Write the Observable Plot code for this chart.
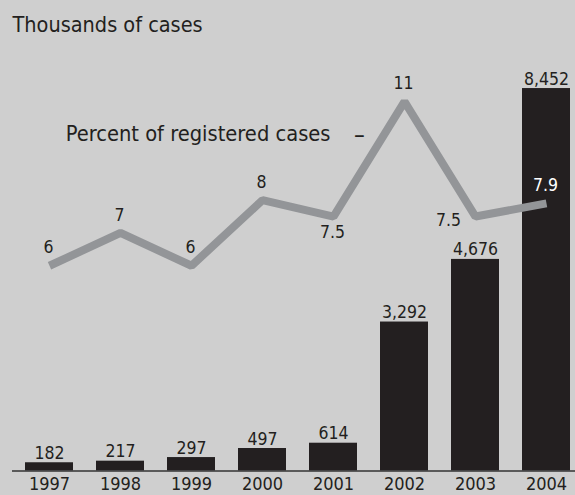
<!DOCTYPE html>
<html>
<head>
<meta charset="utf-8">
<script src="https://cdn.jsdelivr.net/npm/d3@7"></script>
<script src="https://cdn.jsdelivr.net/npm/@observablehq/plot@0.6"></script>
<style>
  html, body { margin: 0; padding: 0; background: #cfcfcf; }
  #chart svg { display: block; }
</style>
</head>
<body>
<div id="chart"></div>
<script>
// ---- data ----
const years = ["1997", "1998", "1999", "2000", "2001", "2002", "2003", "2004"];
const cases = [182, 217, 297, 497, 614, 3292, 4676, 8452];           // thousands of cases
const caseLabels = ["182", "217", "297", "497", "614", "3,292", "4,676", "8,452"];
const percents = [6, 7, 6, 8, 7.5, 11, 7.5, 7.9];                   // percent of registered cases
const percentLabels = ["6", "7", "6", "8", "7.5", "11", "7.5", "7.9"];
const titleText = "Thousands of cases";
const lineLabel = "Percent of registered cases";

const data = years.map((year, i) => ({
  year, cases: cases[i], caseLabel: caseLabels[i], pct: percents[i], pctLabel: percentLabels[i]
}));

// the percent series shares the vertical scale through a linear mapping
const pctToCases = p => 186 + 725 * p;

const FONT = "'Liberation Sans Narrow', 'DejaVu Sans Condensed', 'Arial Narrow', sans-serif";
const INK = "#231f20";
const belowSet = new Set(["2001"]);
const leftSet = new Set(["2003"]);
const whiteSet = new Set(["2004"]);

const chart = Plot.plot({
  width: 575,
  height: 495,
  marginTop: 18,
  marginBottom: 24.5,
  marginLeft: 23,
  marginRight: 4,
  style: { background: "#cfcfcf", fontFamily: FONT, color: INK, overflow: "visible" },
  x: { domain: years, paddingInner: 0.328, paddingOuter: 0, label: null },
  y: { domain: [0, 10000], axis: null },
  marks: [
    Plot.barY(data, { x: "year", y: "cases", fill: INK }),
    Plot.ruleY([0], { stroke: "#333333", strokeWidth: 1.5, insetLeft: -11, insetRight: -4 }),
    Plot.axisX({ tickSize: 0, tickPadding: 6.5, fontSize: 18, fill: INK, label: null }),
    Plot.text(data, {
      x: "year", y: "cases", text: "caseLabel", dy: -4, lineAnchor: "bottom",
      fontSize: 17.5, fill: INK
    }),
    Plot.line(data, {
      x: "year", y: d => pctToCases(d.pct), stroke: "#939598", strokeWidth: 8,
      strokeLinejoin: "miter", strokeLinecap: "butt"
    }),
    // percent labels above points
    Plot.text(data.filter(d => !belowSet.has(d.year) && !leftSet.has(d.year)), {
      x: "year", y: d => pctToCases(d.pct), text: "pctLabel", dy: -18, dx: -1,
      fontSize: 17.5, fill: d => whiteSet.has(d.year) ? "#ffffff" : INK
    }),
    // percent label below point
    Plot.text(data.filter(d => belowSet.has(d.year)), {
      x: "year", y: d => pctToCases(d.pct), text: "pctLabel", dy: 16, dx: -1,
      fontSize: 17.5, fill: INK
    }),
    // percent label left of point
    Plot.text(data.filter(d => leftSet.has(d.year)), {
      x: "year", y: d => pctToCases(d.pct), text: "pctLabel", dy: 4, dx: -27,
      fontSize: 17.5, fill: INK
    }),
    // series label
    Plot.text([lineLabel], {
      x: () => "2001", y: () => pctToCases(10), text: d => d, textAnchor: "end", dx: -3,
      fontSize: 21.7, fill: INK
    }),
    Plot.text(["–"], {
      x: () => "2001", y: () => pctToCases(10), text: d => d, dx: 26, dy: 1,
      fontSize: 24, fill: INK
    }),
    // title
    Plot.text([titleText], {
      frameAnchor: "top-left", text: d => d, dx: -11, dy: 13, lineAnchor: "bottom",
      textAnchor: "start", fontSize: 21.5, fill: INK
    })
  ]
});

document.getElementById("chart").appendChild(chart);
</script>
</body>
</html>
